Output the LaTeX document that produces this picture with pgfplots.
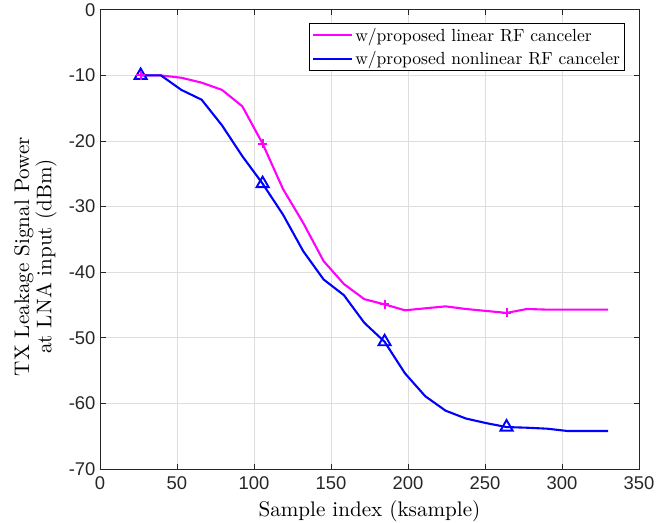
\documentclass[border=0pt]{standalone}
\usepackage{fontspec}
\usepackage{pgfplots}
\pgfplotsset{compat=1.18}
\newfontfamily\ticksf{Liberation Sans}

\definecolor{gridgray}{gray}{0.87}
\definecolor{axgray}{gray}{0.15}
\definecolor{mag}{rgb}{1,0,1}
\definecolor{blu}{rgb}{0,0,1}

% MATLAB-like LaTeX text: 10pt design size, scaled up
\newcommand{\lbl}[1]{\scalebox{2.12}{\fontsize{10}{10.2}\selectfont #1}}
\newcommand{\leg}[1]{\scalebox{1.76}{\fontsize{10}{12}\selectfont #1}}

\begin{document}
\begin{tikzpicture}
\begin{axis}[
    at={(0,0)}, anchor=south west,
    scale only axis,
    width=539bp, height=459.2bp,
    xmin=0, xmax=350,
    ymin=-70, ymax=0,
    xtick={0,50,...,350},
    ytick={-70,-60,...,0},
    grid=major,
    major grid style={gridgray, line width=0.9bp},
    axis line style={axgray, line width=0.9bp},
    tick style={axgray, line width=0.9bp},
    tick align=inside,
    major tick length=5.5bp,
    xtick pos=both, ytick pos=both,
    /pgf/number format/assume math mode=true,
    tick label style={font=\fontsize{18.5}{20}\ticksf, text=axgray},
    xticklabel style={yshift=-4bp},
    yticklabel style={xshift=-1bp},
    xlabel={\lbl{Sample index (ksample)}},
    xlabel style={at={(axis description cs:0.5,0)}, anchor=base, yshift=-47bp, inner sep=0pt},
    ylabel={\lbl{\begin{tabular}{@{}c@{}}TX Leakage Signal Power\\at LNA input (dBm)\end{tabular}}},
    ylabel style={at={(axis description cs:-0.0779,0.463)}, anchor=south, inner sep=0pt},
    legend cell align=left,
    legend style={at={(rel axis cs:0.974,0.971)}, anchor=north east,
        draw=black, line width=0.9bp, inner sep=2bp, row sep=4bp,
        nodes={inner sep=2.5bp}},
]
\addplot[mag, line width=2.1bp,
    legend image code/.code={\draw[mag, line width=2.1bp] (0bp,0bp) -- (39bp,0bp);}]
    coordinates {
(26.4,-10.0)(39.6,-10.0)(52.8,-10.35)(66.0,-11.1)(79.2,-12.2)(92.4,-14.7)
(105.6,-20.4)(118.8,-27.3)(132.0,-32.5)(145.2,-38.3)(158.4,-41.8)(171.6,-44.1)
(184.8,-44.9)(198.0,-45.8)(211.2,-45.5)(224.4,-45.2)(237.6,-45.6)(250.8,-45.9)
(264.0,-46.2)(277.2,-45.6)(290.4,-45.7)(303.6,-45.7)(316.8,-45.7)(330.0,-45.7)};
\addlegendentry{\leg{w/proposed linear RF canceler}}
\addplot[blu, line width=2.1bp, mark=triangle, mark repeat=6, mark phase=1,
    mark size=7bp, mark options={line width=1.9bp},
    legend image code/.code={\draw[blu, line width=2.1bp] (0bp,0bp) -- (39bp,0bp);}]
    coordinates {
(26.4,-10.0)(39.6,-10.0)(52.8,-12.2)(66.0,-13.7)(79.2,-17.6)(92.4,-22.3)
(105.6,-26.5)(118.8,-31.2)(132.0,-36.8)(145.2,-41.1)(158.4,-43.5)(171.6,-47.7)
(184.8,-50.6)(198.0,-55.4)(211.2,-58.9)(224.4,-61.1)(237.6,-62.3)(250.8,-63.0)
(264.0,-63.6)(277.2,-63.7)(290.4,-63.85)(303.6,-64.2)(316.8,-64.2)(330.0,-64.2)};
\addlegendentry{\leg{w/proposed nonlinear RF canceler}}
\addplot[mag, only marks, mark=+, mark size=4.5bp, mark options={line width=1.9bp},
    forget plot] coordinates {(26.4,-10.0)(105.6,-20.4)(184.8,-44.9)(264.0,-46.2)};
\end{axis}
\path (-100bp,-53.4bp) rectangle (571bp,468.6bp);
\end{tikzpicture}
\end{document}
